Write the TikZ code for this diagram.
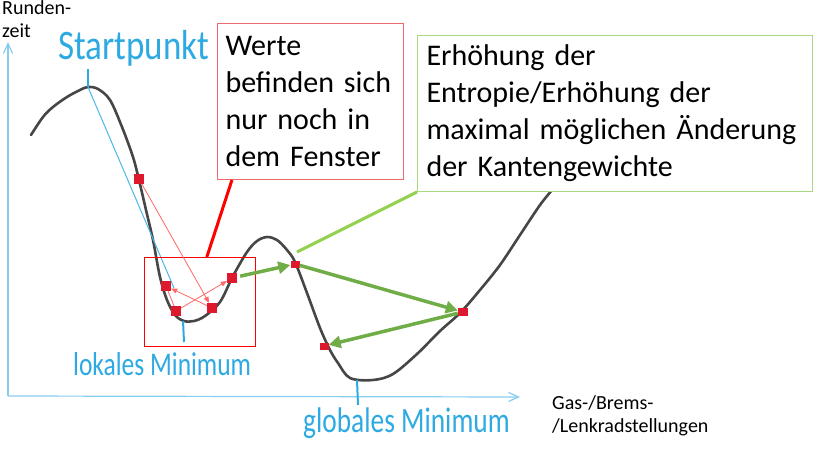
\documentclass[tikz,border=0pt]{standalone}
\usepackage{fontspec}
\setmainfont{Carlito}
\usepackage{graphicx}
\usepackage{xcolor}
\usetikzlibrary{arrows.meta, calc}

\definecolor{achsblau}{RGB}{135,205,238}
\definecolor{handblau}{RGB}{45,170,225}
\definecolor{kurvgrau}{RGB}{70,70,70}
\definecolor{wertrot}{RGB}{222,25,45}
\definecolor{rahmenrot}{RGB}{238,105,105}
\definecolor{rahmengruen}{RGB}{170,215,130}
\definecolor{hellgruen}{RGB}{146,208,80}
\definecolor{dunkelgruen}{RGB}{112,173,71}

\begin{document}
\begin{tikzpicture}[x=1pt, y=-1pt,
  axis/.style={draw=achsblau, line width=1.2pt, -{Straight Barb[length=10pt, width=9pt, line width=1.2pt]}},
  axis_lbl/.style={font=\fontsize{20pt}{23pt}\selectfont, align=left, inner sep=0pt},
  hand_lbl/.style={text=handblau, inner sep=0pt},
  tick/.style={draw=handblau, line width=2pt},
  rbox/.style={draw=rahmenrot, line width=1pt, fill=white, font=\fontsize{30pt}{37pt}\selectfont, align=left, inner xsep=8pt},
  gbox/.style={draw=rahmengruen, line width=1pt, fill=white, font=\fontsize{30pt}{37pt}\selectfont, align=left, inner xsep=9pt},
  window/.style={draw=red, line width=1.2pt, inner sep=0pt},
  wert/.style={fill=wertrot, inner sep=0pt, minimum size=10pt},
  rpfeil/.style={draw=red!60, line width=0.8pt, -{Triangle[length=6pt, width=5pt]}},
  gpfeil/.style={draw=dunkelgruen, line width=3.5pt, -{Triangle[length=12pt, width=12pt]}},
  rcallout/.style={draw=red, line width=3pt},
  gcallout/.style={draw=hellgruen, line width=3pt}
]
  \useasboundingbox (0,0) rectangle (816,449);

  % Achsen
  \coordinate (ursprung) at (8,396);
  \coordinate (yende) at (8,42);
  \coordinate (xende) at (520,397);
  \draw[axis] (ursprung) -- (yende);
  \draw[axis] (ursprung) -- (xende);
  \node[axis_lbl, anchor=base west] (ylbl) at (2,38) {Runden-\\zeit};
  \node[axis_lbl, anchor=base west] (xlbl) at (552,432) {Gas-/Brems-\\/Lenkradstellungen};

  % Kurve
  \draw[kurvgrau, line width=2.6pt, line join=round, line cap=round]
    plot[smooth, tension=0.55] coordinates {
      (31,135) (43,117) (53,107) (67,97) (80,90) (88,87) (98,89) (110,100)
      (122,127) (133,157) (139,180) (146,210) (153,240) (160,277) (167,300)
      (175,315) (184,321) (194,321) (205,316) (220,302) (233,276) (247,252)
      (257,241) (267,237) (277,240) (287,250) (295,262) (307,293) (320,328)
      (330,350) (338,363) (350,378) (373,380) (393,374) (417,354) (440,331)
      (460,313) (480,290) (500,265) (520,235) (540,205) (553,189)};

  % Markierungen
  \coordinate (start) at (88,87);
  \coordinate (startmark) at (88,69);
  \coordinate (lokmin) at (183,321);
  \coordinate (lokmark) at (184,342);
  \coordinate (globmin) at (357,380);
  \coordinate (globmark) at (358,405);
  \coordinate (abstieg) at (174,288);
  \draw[tick] (startmark) -- (start);
  \draw[tick] (lokmin) -- (lokmark);
  \draw[tick] (globmin) -- (globmark);
  \draw[draw=handblau!85, line width=1pt] (start) -- (abstieg);

  \node[hand_lbl, anchor=base west] (startlbl) at (58,60)
    {\scalebox{1}[1.2]{\fontsize{35pt}{40pt}\selectfont Startpunkt}};
  \node[hand_lbl, anchor=base west] (loklbl) at (73,375)
    {\scalebox{1}[1.3]{\fontsize{25.5pt}{30pt}\selectfont lokales Minimum}};
  \node[hand_lbl, anchor=base west] (globlbl) at (303,432)
    {\scalebox{1}[1.3]{\fontsize{27.4pt}{30pt}\selectfont globales Minimum}};

  % Fenster
  \node[window, anchor=north west, minimum width=111pt, minimum height=89pt] (fenster) at (144,257) {};

  % Werte
  \node[wert] (w1) at (139,179) {};
  \node[wert] (w2) at (166,286) {};
  \node[wert] (w3) at (176,311) {};
  \node[wert] (w4) at (212,308) {};
  \node[wert] (w5) at (232,278) {};
  \node[wert, minimum width=9pt, minimum height=7pt] (w6) at (295,264) {};
  \node[wert, minimum height=8pt] (w7) at (463,312) {};
  \node[wert, minimum width=9pt, minimum height=7pt] (w8) at (324,346) {};

  \draw[rpfeil] (w1) -- (w4);
  \draw[rpfeil] (w4) -- (w2);
  \draw[rpfeil] (w3) -- (w5);
  \draw[draw=red!60, line width=0.8pt] (w2) -- (w3);

  \draw[gpfeil, shorten <=3pt] (w5) -- (w6);
  \draw[gpfeil] (w6) -- (w7);
  \draw[gpfeil] (w7) -- (w8);

  % Erklaerungen
  \node[rbox, anchor=north west, text width=170pt, minimum height=156pt] (fensterinfo) at (217,23)
    {Werte\\befinden sich\\nur noch in\\dem Fenster};
  \node[gbox, anchor=north west, text width=377pt, minimum height=156pt] (entropie) at (417,35)
    {Erhöhung der\\Entropie/Erhöhung der\\maximal möglichen Änderung\\der Kantengewichte};

  \coordinate (gspitze) at (297,252);
  \draw[rcallout] ($(fensterinfo.south west)!0.08!(fensterinfo.south east)$)
    -- ($(fenster.north west)!0.56!(fenster.north east)$);
  \draw[gcallout] (entropie.south west) -- (gspitze);

\end{tikzpicture}
\end{document}
